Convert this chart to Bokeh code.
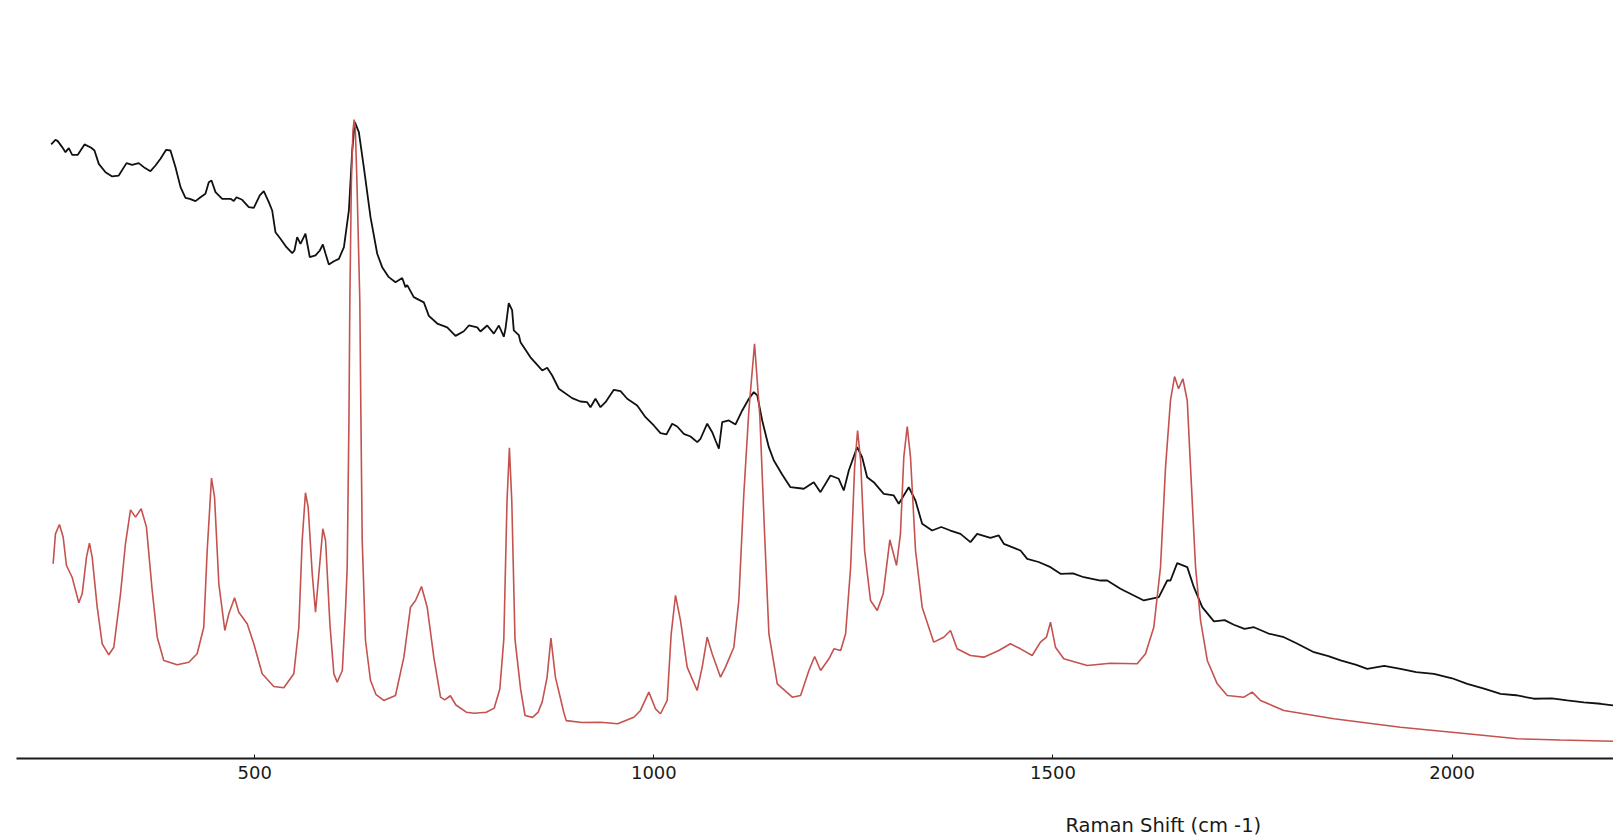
from bokeh.plotting import figure
from bokeh.models import Title, FixedTicker
from bokeh.embed import file_html
from bokeh.resources import INLINE

# Raman shift (cm-1) and intensity (arbitrary units)
red_x = [247.4, 250.3, 255.3, 260.0, 264.1, 271.2, 279.6, 283.8, 289.2, 292.9, 296.3, 302.6, 308.9, 317.1,
         323.4, 331.8, 338.0, 344.3, 350.6, 357.7, 364.3, 371.5, 377.8, 386.0, 402.8, 417.4, 427.8, 436.1,
         440.4, 445.8, 449.6, 455.0, 462.5, 467.5, 474.7, 480.0, 490.5, 498.8, 509.3, 523.8, 536.4, 548.9,
         555.2, 559.4, 563.5, 566.9, 572.0, 576.1, 580.3, 585.3, 588.7, 594.1, 599.1, 603.3, 609.7, 613.8,
         615.8, 618.0, 619.1, 621.0, 623.0, 624.5, 626.0, 628.0, 631.6, 633.0, 634.6, 638.7, 645.0, 652.0,
         661.6, 676.3, 686.8, 695.1, 701.4, 708.9, 716.0, 724.3, 732.7, 738.0, 745.0, 752.0, 765.0, 775.0,
         790.0, 800.0, 807.0, 812.0, 816.0, 819.0, 822.0, 826.0, 833.0, 838.6, 848.0, 855.0, 860.1, 866.2,
         871.0, 876.7, 887.1, 890.2, 910.0, 933.1, 954.7, 974.9, 983.2, 993.7, 1002.0, 1008.3, 1016.7,
         1021.7, 1027.1, 1033.3, 1041.7, 1054.2, 1060.5, 1066.8, 1073.0, 1083.5, 1089.7, 1100.2, 1106.4,
         1112.7, 1119.0, 1126.1, 1132.8, 1138.7, 1144.1, 1154.6, 1173.4, 1183.8, 1194.2, 1201.4, 1208.9,
         1219.3, 1225.6, 1234.0, 1240.2, 1246.5, 1251.5, 1255.2, 1259.0, 1264.0, 1271.4, 1279.8, 1287.3,
         1295.6, 1304.0, 1308.9, 1313.1, 1317.4, 1321.5, 1327.8, 1336.1, 1350.6, 1363.2, 1371.6, 1379.9,
         1396.6, 1413.3, 1432.1, 1446.7, 1459.3, 1473.9, 1484.3, 1491.8, 1496.9, 1503.1, 1513.5, 1542.9,
         1572.1, 1605.5, 1615.9, 1626.3, 1634.7, 1641.0, 1647.2, 1652.3, 1657.3, 1662.7, 1668.2, 1672.3,
         1678.6, 1684.9, 1693.3, 1705.8, 1718.3, 1739.2, 1749.6, 1760.0, 1789.3, 1851.9, 1935.4, 2019.0,
         2081.6, 2135.8, 2202.2]
red_y = [189.3, 218.4, 227.5, 215.0, 187.6, 176.2, 151.3, 160.1, 195.7, 209.3, 195.7, 147.1, 111.5, 100.8,
         108.2, 160.1, 208.7, 241.7, 234.6, 242.7, 224.9, 163.3, 117.9, 95.3, 91.1, 93.6, 101.8, 127.6,
         202.2, 272.5, 254.0, 169.8, 124.4, 140.7, 156.2, 142.2, 130.9, 111.5, 82.3, 70.0, 68.7, 82.3,
         127.6, 211.9, 258.3, 244.3, 179.5, 142.2, 179.5, 223.3, 211.9, 130.9, 82.3, 74.2, 85.5, 147.1,
         186.0, 330.0, 445.0, 560.0, 610.0, 621.0, 612.0, 560.0, 445.0, 330.0, 212.0, 114.7, 75.8, 62.0,
         56.4, 61.2, 98.5, 147.1, 153.6, 167.2, 147.1, 98.5, 59.6, 57.0, 61.0, 52.0, 45.0, 44.0,
         45.0, 49.0, 67.6, 116.0, 250.0, 302.0, 250.0, 116.0, 67.6, 41.8, 40.0, 45.0, 55.0, 78.8,
         117.0, 78.8, 45.0, 36.8, 35.0, 35.3, 33.8, 40.1, 46.7, 64.5, 48.3, 43.5, 56.4,
         121.2, 158.5, 134.2, 88.8, 66.1, 88.8, 117.9, 101.8, 79.0, 88.8, 108.2, 153.6,
         257.3, 338.3, 403.1, 331.8, 218.4, 121.2, 72.6, 59.6, 61.2, 85.5, 99.2, 85.5,
         96.9, 106.6, 105.0, 121.2, 186.0, 283.2, 318.8, 289.7, 202.2, 153.6, 143.9, 160.1,
         212.6, 187.6, 218.4, 292.9, 322.7, 292.9, 202.2, 147.1, 113.1, 117.9, 124.4, 106.6,
         100.1, 98.5, 105.0, 111.5, 106.6, 100.1, 113.1, 117.9, 132.5, 108.2, 96.9, 90.4,
         92.6, 92.1, 101.8, 127.6, 186.0, 283.2, 348.0, 371.3, 359.4, 369.1, 348.0, 283.2,
         186.0, 134.0, 95.3, 72.6, 61.2, 59.6, 64.5, 56.4, 46.7, 38.6, 30.4, 24.0,
         19.2, 18.0, 16.8]

black_x = [244.9, 250.3, 253.2, 258.7, 262.9, 267.0, 271.3, 278.3, 286.7, 295.1, 299.2, 304.6, 313.0, 321.4,
           329.6, 339.3, 346.4, 354.6, 361.0, 369.3, 375.6, 381.9, 389.0, 394.4, 400.7, 407.0, 413.2, 418.6,
           425.7, 432.0, 438.2, 442.4, 445.8, 450.8, 459.2, 469.6, 473.7, 477.1, 484.2, 492.5, 498.8, 506.3,
           511.3, 517.6, 521.8, 525.9, 532.2, 539.7, 546.9, 549.7, 553.1, 557.3, 563.5, 568.9, 576.1, 581.5,
           585.3, 588.7, 592.8, 599.1, 605.4, 611.7, 617.9, 622.1, 625.4, 630.4, 636.6, 645.0, 653.4, 659.6,
           667.9, 676.3, 684.7, 688.8, 691.0, 699.2, 711.8, 718.1, 728.6, 741.1, 751.5, 761.9, 768.2, 778.7,
           782.7, 791.2, 799.5, 805.8, 812.0, 814.1, 818.2, 822.4, 824.5, 830.8, 832.9, 845.4, 860.1, 866.3,
           872.6, 880.9, 897.6, 908.0, 916.4, 920.6, 926.8, 933.1, 939.4, 949.8, 958.2, 966.6, 979.1, 989.5,
           999.9, 1008.3, 1015.8, 1022.9, 1029.2, 1037.5, 1045.9, 1054.3, 1058.4, 1066.8, 1073.1, 1077.2,
           1081.4, 1085.6, 1093.9, 1102.3, 1110.7, 1119.0, 1125.2, 1129.5, 1135.7, 1144.0, 1150.3, 1160.7,
           1171.1, 1187.8, 1200.3, 1208.7, 1221.2, 1231.6, 1237.9, 1244.2, 1254.6, 1260.9, 1267.2, 1275.4,
           1288.0, 1300.5, 1306.8, 1319.3, 1327.7, 1336.1, 1348.6, 1360.0, 1371.5, 1384.1, 1396.6, 1405.0,
           1421.6, 1432.1, 1438.4, 1459.3, 1467.7, 1482.0, 1496.9, 1509.4, 1525.0, 1538.6, 1559.5, 1567.9,
           1584.5, 1588.8, 1613.8, 1632.6, 1643.1, 1647.2, 1655.6, 1668.2, 1676.5, 1687.0, 1701.6, 1715.0,
           1726.6, 1740.0, 1751.7, 1770.0, 1789.3, 1805.0, 1826.9, 1845.0, 1860.3, 1880.0, 1893.7, 1915.0,
           1935.4, 1955.0, 1977.2, 2000.0, 2019.0, 2040.0, 2060.8, 2080.0, 2102.5, 2125.0, 2144.3, 2165.0,
           2186.1, 2202.4]
black_y = [596.9, 601.4, 600.1, 594.3, 589.4, 593.3, 586.8, 586.8, 596.9, 593.6, 591.0, 578.0, 569.9, 565.8,
           566.6, 578.7, 577.0, 578.7, 574.8, 570.9, 576.4, 583.0, 591.7, 591.0, 574.8, 555.4, 545.0, 544.0,
           541.8, 545.6, 548.9, 560.2, 561.8, 550.5, 544.0, 544.0, 541.8, 545.6, 543.1, 536.0, 535.3, 547.3,
           551.5, 540.8, 532.7, 511.6, 505.2, 497.0, 491.2, 493.8, 506.8, 500.3, 510.1, 487.4, 489.0, 493.8,
           499.7, 490.6, 480.2, 483.4, 485.7, 497.0, 532.7, 591.0, 618.5, 608.8, 574.8, 526.2, 490.6, 477.6,
           467.9, 463.0, 467.0, 458.2, 460.2, 448.5, 443.4, 430.2, 422.8, 419.1, 410.8, 415.3, 420.9, 419.1,
           415.1, 420.9, 413.0, 420.9, 410.0, 417.7, 442.6, 435.9, 416.1, 411.6, 404.7, 390.0, 377.2, 379.8,
           372.3, 359.4, 350.3, 347.0, 346.4, 341.5, 349.7, 341.5, 346.4, 358.4, 357.1, 349.7, 343.1, 331.8,
           323.7, 316.2, 315.0, 325.4, 322.7, 315.6, 313.0, 307.5, 310.8, 325.4, 317.2, 309.1,
           301.1, 326.9, 328.6, 324.7, 338.3, 349.7, 356.1, 352.9, 328.6, 302.6, 289.7, 276.0,
           263.7, 262.2, 268.6, 258.9, 275.1, 271.9, 260.5, 280.0, 302.6, 292.9, 273.4, 268.6,
           257.3, 255.7, 247.6, 263.7, 250.8, 228.1, 221.6, 225.0, 221.6, 218.4, 210.3, 218.4,
           214.5, 216.8, 208.7, 202.2, 194.1, 191.0, 186.0, 179.5, 180.0, 176.2, 173.0, 173.0,
           165.0, 163.3, 153.6, 156.8, 173.0, 173.0, 189.9, 186.0, 166.5, 147.1, 133.3, 134.5,
           130.0, 126.0, 127.6, 121.5, 117.9, 112.0, 103.3, 99.5, 95.3, 91.0, 87.2, 90.0,
           87.2, 84.0, 82.3, 78.0, 72.6, 68.0, 62.9, 61.5, 58.1, 58.5, 56.4, 54.5,
           53.2, 51.5]

x_ticks = [500, 1000, 1500, 2000]
axis_title = "Raman Shift (cm -1)"

p = figure(width=1613, height=839, x_range=(201.5, 2202.2), y_range=(0, 736.8),
           output_backend="svg", toolbar_location=None, y_axis_location=None,
           min_border_left=16, min_border_right=0, min_border_top=0, min_border_bottom=81)
p.outline_line_color = None
p.grid.visible = False
p.background_fill_color = "white"
p.border_fill_color = "white"

p.line(black_x, black_y, line_color="#111111", line_width=1.8)
p.line(red_x, red_y, line_color="#c4524f", line_width=1.6)

ax = p.xaxis[0]
ax.ticker = FixedTicker(ticks=x_ticks)
ax.axis_line_color = "#1a1a1a"
ax.axis_line_width = 2
ax.major_tick_in = 4
ax.major_tick_out = 0
ax.major_tick_line_color = "#1a1a1a"
ax.minor_tick_line_color = None
ax.major_label_text_font = "DejaVu Sans"
ax.major_label_text_font_size = "18px"
ax.major_label_text_color = "#1a1a1a"
ax.major_label_standoff = 7
# blank spacer label pushes the axis title (a Title below) down to its place
ax.axis_label = " "
ax.axis_label_text_font_size = "2px"
ax.axis_label_standoff = 24

title = Title(text=axis_title, align="left", offset=1049, standoff=2,
              text_font="DejaVu Sans", text_font_size="19.5px", text_color="#1a1a1a",
              text_font_style="normal")
p.add_layout(title, "below")

open("out.html", "w").write(file_html(p, INLINE))
